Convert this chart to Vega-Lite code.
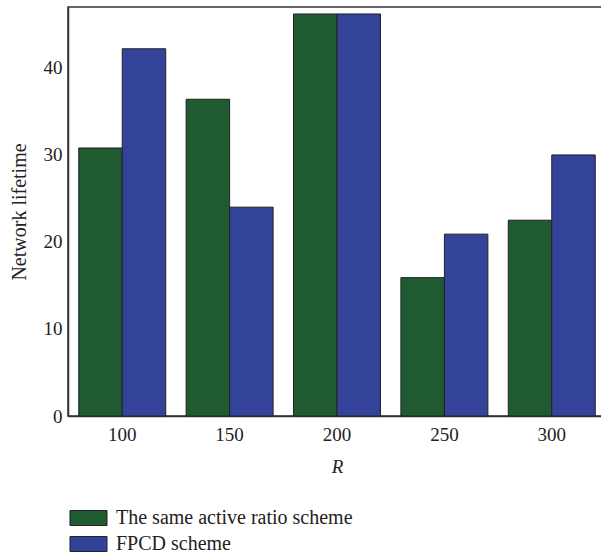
{
  "$schema": "https://vega.github.io/schema/vega-lite/v6.json",
  "width": 538,
  "height": 409,
  "autosize": {"type": "none"},
  "padding": {"left": 68, "top": 7, "right": 0, "bottom": 138},
  "background": "white",
  "config": {
    "view": {"stroke": "#333333", "strokeWidth": 1.5},
    "font": "Liberation Serif"
  },
  "data": {
    "values": [
      {"R": "100", "scheme": "The same active ratio scheme", "lifetime": 30.8},
      {"R": "100", "scheme": "FPCD scheme", "lifetime": 42.2},
      {"R": "150", "scheme": "The same active ratio scheme", "lifetime": 36.4},
      {"R": "150", "scheme": "FPCD scheme", "lifetime": 24.0},
      {"R": "200", "scheme": "The same active ratio scheme", "lifetime": 46.2},
      {"R": "200", "scheme": "FPCD scheme", "lifetime": 46.2},
      {"R": "250", "scheme": "The same active ratio scheme", "lifetime": 15.9},
      {"R": "250", "scheme": "FPCD scheme", "lifetime": 20.9},
      {"R": "300", "scheme": "The same active ratio scheme", "lifetime": 22.5},
      {"R": "300", "scheme": "FPCD scheme", "lifetime": 30.0}
    ]
  },
  "mark": {"type": "bar", "stroke": "#222222", "strokeWidth": 1},
  "encoding": {
    "x": {
      "field": "R",
      "type": "ordinal",
      "scale": {"paddingInner": 0.19, "paddingOuter": 0.1},
      "axis": {
        "title": "R",
        "titleFont": "Liberation Serif",
        "titleFontStyle": "italic",
        "titleFontWeight": "normal",
        "titleFontSize": 19,
        "titleColor": "#222222",
        "titlePadding": 13,
        "labelAngle": 0,
        "labelFont": "Liberation Serif",
        "labelFontSize": 19,
        "labelColor": "#222222",
        "labelPadding": 9,
        "tickSize": 0,
        "domainColor": "#333333",
        "domainWidth": 1.5
      }
    },
    "xOffset": {
      "field": "scheme",
      "type": "nominal",
      "sort": ["The same active ratio scheme", "FPCD scheme"],
      "scale": {"paddingInner": 0, "paddingOuter": 0}
    },
    "y": {
      "field": "lifetime",
      "type": "quantitative",
      "scale": {"domain": [0, 47], "nice": false},
      "axis": {
        "title": "Network lifetime",
        "titleFont": "Liberation Serif",
        "titleFontWeight": "normal",
        "titleFontSize": 20,
        "titleColor": "#222222",
        "titlePadding": 14,
        "values": [0, 10, 20, 30, 40],
        "grid": false,
        "labelFont": "Liberation Serif",
        "labelFontSize": 19,
        "labelColor": "#222222",
        "labelPadding": 6,
        "tickSize": 0,
        "domainColor": "#333333",
        "domainWidth": 1.5
      }
    },
    "color": {
      "field": "scheme",
      "type": "nominal",
      "sort": ["The same active ratio scheme", "FPCD scheme"],
      "scale": {
        "domain": ["The same active ratio scheme", "FPCD scheme"],
        "range": ["#1f5a30", "#33439a"]
      },
      "legend": {
        "title": null,
        "orient": "none",
        "legendX": 10.5,
        "legendY": 501,
        "symbolType": "M-2.467,-1H2.467V1H-2.467Z",
        "symbolSize": 225,
        "symbolStrokeColor": "#222222",
        "symbolStrokeWidth": 1,
        "symbolOpacity": 1,
        "labelFont": "Liberation Serif",
        "labelFontSize": 20,
        "labelColor": "#222222",
        "labelOffset": 17.5,
        "labelLimit": 0,
        "rowPadding": 6
      }
    }
  }
}
